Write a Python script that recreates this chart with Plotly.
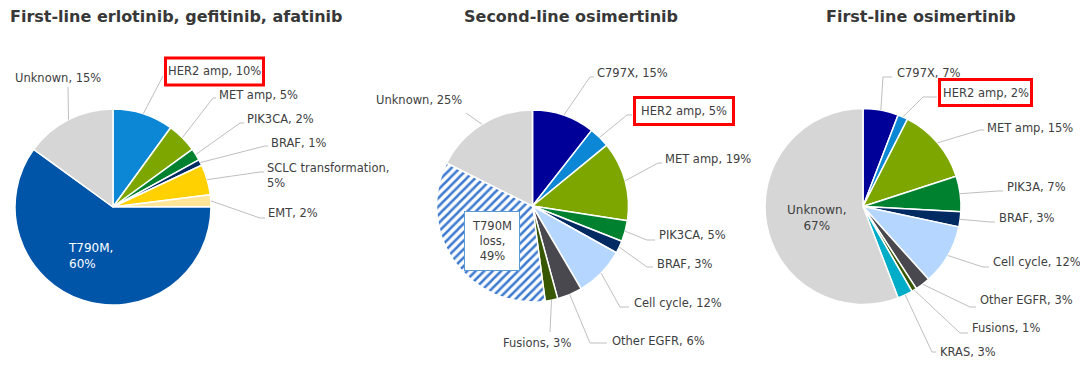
import numpy as np
import plotly.graph_objects as go

W, H = 1080, 366

# ---------------- data ----------------
titles = ["First-line erlotinib, gefitinib, afatinib",
          "Second-line osimertinib",
          "First-line osimertinib"]

ch1_labels = ["HER2 amp", "MET amp", "PIK3CA", "BRAF", "SCLC transformation", "EMT", "T790M", "Unknown"]
ch1_values = [10, 5, 2, 1, 5, 2, 60, 15]

ch2_labels = ["C797X", "HER2 amp", "MET amp", "PIK3CA", "BRAF", "Cell cycle", "Other EGFR", "Fusions",
              "T790M loss", "Unknown"]
ch2_values = [15, 5, 19, 5, 3, 12, 6, 3, 49, 25]

ch3_labels = ["C797X", "HER2 amp", "MET amp", "PIK3A", "BRAF", "Cell cycle", "Other EGFR", "Fusions",
              "KRAS", "Unknown"]
ch3_values = [7, 2, 15, 7, 3, 12, 3, 1, 3, 67]

# ---------------- styles ----------------
colors = {
    "HER2 amp": "#0B87D6", "MET amp": "#7DA700", "PIK3CA": "#00812F", "PIK3A": "#00812F",
    "BRAF": "#002A62", "SCLC transformation": "#FFD100", "EMT": "#FFE597",
    "T790M": "#0055A9", "Unknown": "#D6D6D6", "C797X": "#000099", "Cell cycle": "#B5D6FF",
    "Other EGFR": "#48484E", "Fusions": "#375800", "KRAS": "#00ADC9", "T790M loss": "#FFFFFF",
}
TXT = "#404040"
LINE = "#BFBFBF"
FONT = "DejaVu Sans"
FS = 11.5

# pie geometry in pixels (centre x, centre y, radius)
geom = [(113, 207, 98), (532.5, 206, 96), (863, 206.5, 98)]
title_x = [176, 571, 921]

# red highlight boxes (pixels: x0, y0, x1, y1)
red_boxes = [(165.5, 58, 263.5, 85), (634.5, 97.5, 733.5, 124.5), (939.5, 79.5, 1031.5, 105.5)]

# label layout: label -> (x, y, xanchor, style, leader polyline end points)
layouts = [
    {
        "Unknown": (58, 78, "center", "plain", [(68, 87)]),
        "HER2 amp": (214.5, 71.5, "center", "red", [(163, 76)]),
        "MET amp": (217, 95, "left", "plain", [(213, 98), (216, 98)]),
        "PIK3CA": (245, 119, "left", "plain", [(240, 123), (244, 123)]),
        "BRAF": (269, 143, "left", "plain", [(265, 146), (268, 146)]),
        "SCLC transformation": (265, 175, "left", "plain", [(260, 172), (264, 172)]),
        "EMT": (266, 213, "left", "plain", [(260, 218), (265, 218)]),
        "T790M": (66, 256, "left", "inside_white", []),
    },
    {
        "C797X": (595, 73, "left", "plain", [(590, 77), (594, 77)]),
        "HER2 amp": (684, 111, "center", "red", [(627, 115), (632, 115)]),
        "MET amp": (663, 159, "left", "plain", [(658, 163), (662, 163)]),
        "PIK3CA": (657, 235, "left", "plain", [(647, 240), (655, 240)]),
        "BRAF": (655, 264, "left", "plain", [(647, 267), (653, 267)]),
        "Cell cycle": (632, 303, "left", "plain", [(620, 307), (629, 307)]),
        "Other EGFR": (610, 341, "left", "plain", [(590, 343), (607, 343)]),
        "Fusions": (536.5, 343, "center", "plain", [(550, 332)]),
        "Unknown": (418.5, 100, "center", "plain", [(466, 113)]),
        "T790M loss": (491.5, 241, "center", "blue_box", []),
    },
    {
        "C797X": (895, 73, "left", "plain", [(883, 77), (892, 77)]),
        "HER2 amp": (985.5, 92.5, "center", "red", [(923, 97), (937, 97)]),
        "MET amp": (985, 128, "left", "plain", [(980, 130), (984, 130)]),
        "PIK3A": (1005, 187, "left", "plain", [(998, 191), (1003, 191)]),
        "BRAF": (997, 218, "left", "plain", [(990, 222), (995, 222)]),
        "Cell cycle": (991, 262, "left", "plain", [(983, 267), (989, 267)]),
        "Other EGFR": (978, 300, "left", "plain", [(970, 307), (976, 307)]),
        "Fusions": (970, 328, "left", "plain", [(960, 333), (968, 333)]),
        "KRAS": (938, 352, "left", "plain", [(932, 352), (936, 352)]),
        "Unknown": (817, 218, "center", "inside_dark", []),
    },
]

multiline = {"SCLC transformation": "{l},<br>{v}%",
             "T790M loss": "T790M<br>loss,<br>{v}%"}


def px2paper(x, y):
    return x / W, 1 - y / H


fig = go.Figure()
annotations = []
shapes = []

charts = [(ch1_labels, ch1_values), (ch2_labels, ch2_values), (ch3_labels, ch3_values)]
for ci, (labs, vals) in enumerate(charts):
    cx, cy, r = geom[ci]
    x0, y1 = px2paper(cx - r, cy - r)
    x1, y0 = px2paper(cx + r, cy + r)
    shapes_pat = ["/" if l == "T790M loss" else "" for l in labs]
    fig.add_trace(go.Pie(
        labels=labs, values=vals, sort=False, direction="clockwise", rotation=0,
        domain=dict(x=[x0, x1], y=[y0, y1]),
        textinfo="none", hoverinfo="label+value", showlegend=False,
        marker=dict(colors=[colors[l] for l in labs],
                    line=dict(color="white", width=1.5),
                    pattern=dict(shape=shapes_pat, fgcolor="#3F7BD0", bgcolor="white",
                                 size=6, solidity=0.42)),
    ))
    # title
    tx, ty = px2paper(title_x[ci], 16)
    annotations.append(dict(x=tx, y=ty, xref="paper", yref="paper", text="<b>%s</b>" % titles[ci],
                            showarrow=False, xanchor="center", yanchor="middle",
                            font=dict(family=FONT, size=16, color="#383838")))
    # red highlight box
    bx0, by0, bx1, by1 = red_boxes[ci]
    qx0, qy1 = px2paper(bx0, by0)
    qx1, qy0 = px2paper(bx1, by1)
    shapes.append(dict(type="rect", xref="paper", yref="paper", x0=qx0, x1=qx1, y0=qy0, y1=qy1,
                       line=dict(color="#FF0000", width=3), fillcolor="white", layer="below"))
    total = float(sum(vals))
    cum = 0.0
    lay = layouts[ci]
    for l, v in zip(labs, vals):
        mid = 2 * np.pi * (cum + v / 2) / total
        cum += v
        ex, ey = cx + r * np.sin(mid), cy - r * np.cos(mid)
        x, y, xa, style, pts = lay[l]
        if style.startswith("inside"):
            text = "{l},<br>{v}%".format(l=l, v=v)
        else:
            text = multiline.get(l, "{l}, {v}%").format(l=l, v=v)
        ax, ay = px2paper(x, y)
        ann = dict(x=ax, y=ay, xref="paper", yref="paper", text=text, showarrow=False,
                   xanchor=xa, yanchor="middle", align="left" if xa == "left" else "center",
                   font=dict(family=FONT, size=FS, color=TXT))
        if style == "blue_box":
            ann.update(bordercolor="#5B9BD5", borderwidth=1, borderpad=7, bgcolor="white",
                       align="center")
        elif style == "inside_white":
            ann["font"]["color"] = "white"
            ann["font"]["size"] = 12
        elif style == "inside_dark":
            ann["font"]["size"] = 12
        annotations.append(ann)
        if pts:
            path_pts = [(ex, ey)] + pts
            d = ""
            for k, (px_, py_) in enumerate(path_pts):
                qx, qy = px2paper(px_, py_)
                d += ("M" if k == 0 else " L") + " %.5f %.5f" % (qx, qy)
            shapes.append(dict(type="path", xref="paper", yref="paper", path=d,
                               line=dict(color=LINE, width=1)))

fig.update_layout(
    width=W, height=H, margin=dict(l=0, r=0, t=0, b=0),
    paper_bgcolor="white", plot_bgcolor="white",
    annotations=annotations, shapes=shapes,
    font=dict(family=FONT, color=TXT),
)
fig.write_html("out.html", config={"displayModeBar": False},
               post_script="document.body.style.margin='0';")
